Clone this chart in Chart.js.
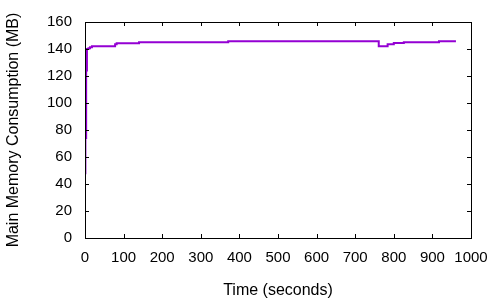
<!DOCTYPE html>
<html>
<head>
<meta charset="utf-8">
<script src="https://cdn.jsdelivr.net/npm/chart.js@4"></script>
<style>
html,body{margin:0;padding:0;background:#fff;}
#wrap{width:500px;height:300px;position:relative;}
</style>
</head>
<body>
<div id="wrap"><canvas id="c" width="500" height="300"></canvas></div>
<script>
// Data (time in seconds, memory in MB)
const times  = [0,  1,  3,   5,   9,     13,    18,  78,    82,  140, 371,   761, 770, 784,   800,   826, 917,   961];
const memory = [48, 74, 124, 140, 140.5, 141.3, 142, 143.5, 144.3, 145, 145.7, 142, 142, 143.6, 144.4, 145, 145.7, 145.7];
const xTicks = [0,100,200,300,400,500,600,700,800,900,1000];
const yTicks = [0,20,40,60,80,100,120,140,160];
const xTitle = 'Time (seconds)';
const yTitle = 'Main Memory Consumption (MB)';

// step-after semantics: each value holds until the next time
const points = [];
times.forEach((t,i)=>{
  points.push({x:t,y:memory[i]});
});
const FAM = '"Liberation Sans", Arial, sans-serif';
const TICKFONT = {family:FAM, size:15};
const TITLEFONT = {family:FAM, size:16};

const frame = {
  id:'frame',
  afterDraw(chart){
    const {ctx, chartArea:a, scales:{x,y}} = chart;
    ctx.save();
    ctx.strokeStyle = '#000';
    ctx.lineWidth = 1;
    const L=4;
    ctx.beginPath();
    xTicks.forEach(v=>{
      const px = Math.round(x.getPixelForValue(v))+0.5;
      ctx.moveTo(px,a.bottom); ctx.lineTo(px,a.bottom-L);
      ctx.moveTo(px,a.top); ctx.lineTo(px,a.top+L);
    });
    yTicks.forEach(v=>{
      const py = Math.round(y.getPixelForValue(v))+0.5;
      ctx.moveTo(a.left,py); ctx.lineTo(a.left+L,py);
      ctx.moveTo(a.right,py); ctx.lineTo(a.right-L,py);
    });
    ctx.stroke();
    ctx.strokeRect(Math.round(a.left)+0.5, Math.round(a.top)+0.5, Math.round(a.right-a.left), Math.round(a.bottom-a.top));
    ctx.restore();
  }
};

new Chart(document.getElementById('c'), {
  type:'line',
  data:{datasets:[{
    data:points,
    borderColor:'#9400d3',
    borderWidth:2,
    pointRadius:0,
    stepped:true,
    fill:false
  }]},
  options:{
    responsive:false,
    animation:false,
    events:[],
    layout:{padding:{top:19,right:29,left:0,bottom:0}},
    plugins:{legend:{display:false},tooltip:{enabled:false}},
    scales:{
      x:{
        type:'linear', min:0, max:1000,
        afterBuildTicks(s){ s.ticks = xTicks.map(v=>({value:v})); },
        afterFit(s){ s.height = 62; },
        grid:{display:false, drawTicks:false},
        border:{display:false},
        ticks:{color:'#000', font:TICKFONT, padding:11, maxRotation:0, autoSkip:false, callback:v=>String(v)},
        title:{display:true, text:xTitle, color:'#000', font:TITLEFONT, padding:{top:4,bottom:0}}
      },
      y:{
        type:'linear', min:0, max:160,
        afterBuildTicks(s){ s.ticks = yTicks.map(v=>({value:v})); },
        afterFit(s){ s.width = 85; },
        grid:{display:false, drawTicks:false},
        border:{display:false},
        ticks:{color:'#000', font:TICKFONT, padding:13, autoSkip:false, callback:v=>String(v)},
        title:{display:true, text:yTitle, color:'#000', font:TITLEFONT, padding:{top:4,bottom:0}}
      }
    }
  },
  plugins:[frame]
});
</script>
</body>
</html>
